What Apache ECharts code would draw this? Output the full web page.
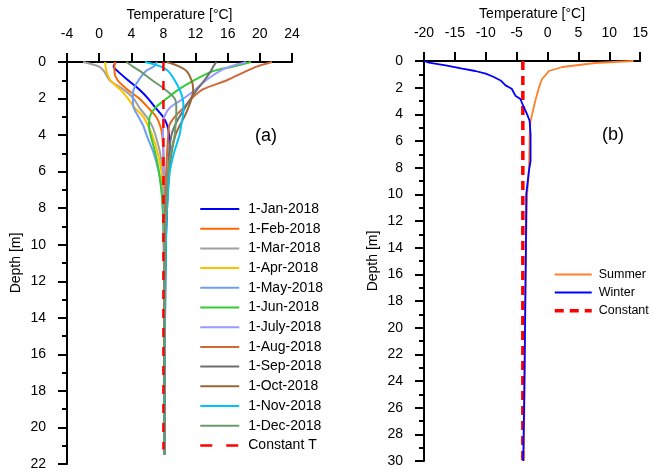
<!DOCTYPE html>
<html>
<head>
<meta charset="utf-8">
<script src="https://cdn.jsdelivr.net/npm/echarts@6/dist/echarts.min.js"></script>
<style>
html,body{margin:0;padding:0;background:#fff;}
#chart{width:651px;height:472px;}
</style>
</head>
<body>
<div id="chart"></div>
<script>
// ---------- Panel (a): monthly ground temperature profiles ----------
const depthsA = [0, 0.25, 0.5, 1, 1.5, 2, 2.5, 3, 3.5, 4, 5, 6, 7, 8, 10, 14, 21.5];
const monthNames = ['1-Jan-2018','1-Feb-2018','1-Mar-2018','1-Apr-2018','1-May-2018','1-Jun-2018',
                    '1-July-2018','1-Aug-2018','1-Sep-2018','1-Oct-2018','1-Nov-2018','1-Dec-2018'];
const janT = [2.1, 1.8, 2.3, 3.6, 5.0, 6.1, 7.0, 7.95, 8.5, 8.7, 8.8, 8.7, 8.55, 8.45, 8.3, 8.2, 8.15];
const febT = [2.0, 1.9, 1.9, 2.3, 3.5, 5.0, 6.1, 7.1, 7.6, 7.85, 8.0, 8.05, 8.1, 8.1, 8.1, 8.1, 8.1];
const marT = [-2.0, 0.0, 0.6, 1.3, 3.0, 4.3, 5.0, 5.9, 6.6, 7.0, 7.6, 7.85, 7.95, 8.0, 8.05, 8.1, 8.1];
const aprT = [0.75, 0.8, 0.9, 1.4, 2.6, 3.6, 4.4, 5.5, 6.1, 6.6, 7.3, 7.75, 7.9, 8.0, 8.05, 8.1, 8.1];
const mayT = [7.2, 6.8, 5.8, 4.9, 4.3, 4.2, 4.3, 4.9, 5.5, 5.9, 6.8, 7.4, 7.75, 7.95, 8.05, 8.1, 8.1];
const junT = [18.9, 16.7, 14.2, 11.8, 9.9, 8.4, 7.0, 6.3, 6.2, 6.4, 7.0, 7.45, 7.75, 7.9, 8.05, 8.1, 8.1];
const julT = [18.3, 16.3, 15.0, 13.3, 12.0, 10.5, 8.8, 8.1, 7.95, 7.95, 8.0, 8.05, 8.1, 8.1, 8.1, 8.1, 8.1];
const augT = [21.5, 19.6, 18.3, 15.9, 12.9, 11.5, 10.5, 9.4, 8.7, 8.6, 8.45, 8.35, 8.25, 8.2, 8.15, 8.1, 8.1];
const sepT = [14.6, 14.2, 13.9, 13.1, 12.2, 11.4, 10.7, 10.0, 9.4, 9.0, 8.7, 8.6, 8.45, 8.35, 8.2, 8.15, 8.1];
const octT = [8.4, 10.0, 10.9, 11.5, 11.7, 11.5, 11.1, 10.6, 10.0, 9.5, 9.0, 8.7, 8.5, 8.4, 8.25, 8.15, 8.1];
const novT = [5.7, 7.7, 8.6, 9.4, 10.0, 10.4, 10.5, 10.4, 10.2, 10.0, 9.3, 8.8, 8.6, 8.45, 8.3, 8.2, 8.1];
const decT = [3.4, 4.2, 5.1, 6.6, 8.2, 9.4, 9.6, 9.6, 9.5, 9.4, 8.9, 8.6, 8.45, 8.35, 8.2, 8.15, 8.1];
const monthColors = ['#0000ff','#ff6600','#a0a0a0','#ffc000','#6f9ef0','#33cc33',
                     '#9999ff','#d0683a','#6e6e6e','#9b6534','#00c4f5','#6b9b6b'];
const constAName = 'Constant T';
const constADepth = [0, 21.2];
const constAT = [8, 8];

// ---------- Panel (b): summer / winter extremes ----------
const summerDepth = [0, 0.15, 0.45, 0.75, 1.1, 1.35, 2, 3, 4, 4.5, 5.5, 8, 10, 14, 18, 22, 26, 30];
const summerT = [13.9, 7.7, 2.4, 0.2, -0.4, -0.9, -1.4, -2.0, -2.5, -2.75, -2.9, -3.0, -3.3, -3.5, -3.6, -3.65, -3.75, -3.85];
const winterDepth = [0, 0.12, 0.33, 0.58, 0.75, 0.95, 1.2, 1.46, 1.83, 2.08, 2.6, 2.85, 3.45, 4.0, 4.5, 5.5, 7.5, 8.2, 10, 14, 18, 22, 26, 30];
const winterT = [-20, -19.2, -16.5, -13.8, -11.7, -10.0, -8.7, -7.6, -6.8, -5.8, -5.2, -4.4, -3.85, -3.3, -2.9, -2.75, -2.75, -3.0, -3.45, -3.5, -3.6, -3.7, -3.8, -3.95];
const constBDepth = [0, 30];
const constBT = [-4, -4];

// ---------- Axis ticks ----------
const xTicksA = {min: -4, max: 24, interval: 4};
const yTicksA = {min: 0, max: 22, interval: 2};
const xTicksB = {min: -20, max: 15, interval: 5};
const yTicksB = {min: 0, max: 30, interval: 2};

const FONT = 'Liberation Sans, Arial, sans-serif';
const allT = [janT, febT, marT, aprT, mayT, junT, julT, augT, sepT, octT, novT, decT];

function pairs(xs, ys){ return xs.map((x,i)=>[x, ys[i]]); }

function xAxisCfg(grid, t, gap){
  return {
    gridIndex: grid, type: 'value', position: 'top',
    min: t.min, max: t.max, interval: t.interval,
    name: 'Temperature [°C]', nameLocation: 'middle', nameGap: gap,
    nameTextStyle: {color:'#000', fontSize:14, fontFamily: FONT},
    axisLine: {show:true, onZero:false, lineStyle:{color:'#000', width:2}},
    axisTick: {show:true, inside:false, length:9, lineStyle:{color:'#000', width:2}},
    axisLabel: {color:'#000', fontSize:14, fontFamily: FONT, margin: 21},
    splitLine: {show:false}
  };
}
function yAxisCfg(grid, t, gap){
  return {
    gridIndex: grid, type: 'value', inverse: true,
    min: t.min, max: t.max, interval: t.interval,
    name: 'Depth [m]', nameLocation: 'middle', nameGap: gap,
    nameTextStyle: {color:'#000', fontSize:14, fontFamily: FONT},
    axisLine: {show:true, onZero:false, lineStyle:{color:'#000', width:2}},
    axisTick: {show:true, inside:false, length:9, lineStyle:{color:'#000', width:2}},
    minorTick: {show:true, splitNumber:2, length:5, lineStyle:{color:'#000', width:2}},
    axisLabel: {color:'#000', fontSize:14, fontFamily: FONT, margin: 21},
    splitLine: {show:false}, minorSplitLine: {show:false}
  };
}

const series = [];
monthNames.forEach((n, i) => {
  series.push({
    name: n, type: 'line', xAxisIndex: 0, yAxisIndex: 0,
    data: pairs(allT[i], depthsA), symbol: 'none', smooth: 0.3,
    lineStyle: {color: monthColors[i], width: 2}, itemStyle: {color: monthColors[i]},
    z: 2
  });
});
series.push({
  name: constAName, type: 'line', xAxisIndex: 0, yAxisIndex: 0,
  data: pairs(constAT, constADepth), symbol: 'none',
  lineStyle: {color:'#ff0000', width: 2.5, type: [9, 10]}, itemStyle:{color:'#ff0000'}, z: 3
});
series.push({
  name: 'Summer', type: 'line', xAxisIndex: 1, yAxisIndex: 1,
  data: pairs(summerT, summerDepth), symbol: 'none',
  lineStyle: {color:'#ff7f2a', width: 1.8}, itemStyle:{color:'#ff7f2a'}, z: 2
});
series.push({
  name: 'Winter', type: 'line', xAxisIndex: 1, yAxisIndex: 1,
  data: pairs(winterT, winterDepth), symbol: 'none',
  lineStyle: {color:'#0000ff', width: 1.8}, itemStyle:{color:'#0000ff'}, z: 3
});
series.push({
  name: 'Constant', type: 'line', xAxisIndex: 1, yAxisIndex: 1,
  data: pairs(constBT, constBDepth), symbol: 'none',
  lineStyle: {color:'#ff0000', width: 3.5, type: [9, 6]}, itemStyle:{color:'#ff0000'}, z: 1
});

const chart = echarts.init(document.getElementById('chart'), null, {renderer:'canvas'});
chart.setOption({
  animation: false,
  backgroundColor: '#fff',
  textStyle: {fontFamily: FONT},
  grid: [
    {left: 67, top: 62, width: 225, height: 402},
    {left: 424, top: 61, width: 217, height: 400}
  ],
  xAxis: [xAxisCfg(0, xTicksA, 37), xAxisCfg(1, xTicksB, 37)],
  yAxis: [yAxisCfg(0, yTicksA, 44), yAxisCfg(1, yTicksB, 43.5)],
  legend: [
    {
      orient: 'vertical', left: 194, top: 197, itemWidth: 39, itemHeight: 14, itemGap: 5.7,
      itemStyle: {opacity: 0},
      data: monthNames.concat([{name: constAName, lineStyle:{type:[12,14], width:2.5}}]),
      textStyle: {color:'#000', fontSize:14, fontFamily: FONT, padding:[0,0,0,4]},
      selectedMode: false
    },
    {
      orient: 'vertical', left: 548, top: 263, itemWidth: 37, itemHeight: 14, itemGap: 5.1,
      itemStyle: {opacity: 0},
      data: ['Summer', 'Winter', {name:'Constant', lineStyle:{type:[9,6], width:3.5}}],
      textStyle: {color:'#000', fontSize:12.5, fontFamily: FONT, padding:[0,0,0,2]},
      selectedMode: false
    }
  ],
  graphic: [
    {type:'text', left: 255, top: 127, style:{text:'(a)', fontSize:18, fontFamily: FONT, fill:'#000'}},
    {type:'text', left: 602, top: 126, style:{text:'(b)', fontSize:18, fontFamily: FONT, fill:'#000'}}
  ],
  series: series
});
</script>
</body>
</html>
